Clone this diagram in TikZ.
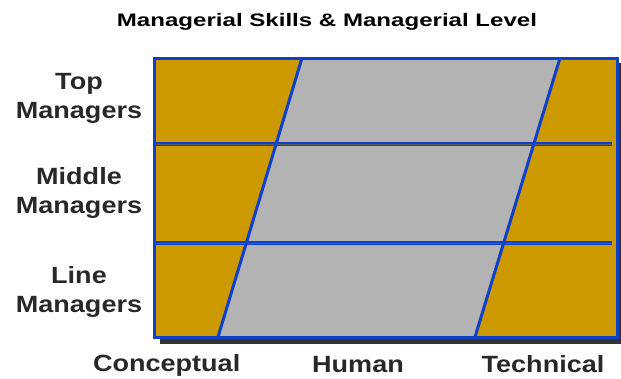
\documentclass[tikz,border=0pt]{standalone}
\usepackage{fontspec}
\usepackage{tikz}
\usetikzlibrary{positioning}
\newfontfamily\lblfont[FakeStretch=1.15]{Liberation Sans}
\newfontfamily\ttlfont[FakeStretch=1.33]{Liberation Sans}
\definecolor{skblue}{RGB}{16,64,200}
\definecolor{skgold}{RGB}{204,153,0}
\definecolor{skgrey}{RGB}{179,179,179}
\definecolor{skshadow}{RGB}{51,51,51}
\definecolor{sktext}{RGB}{40,40,40}
\tikzstyle{skilltext} = [font=\lblfont\bfseries\fontsize{23.5}{29}\selectfont, text=sktext, align=center, inner sep=0pt]
\tikzstyle{levelsep} = [line width=1.2pt, draw=skblue, double=skshadow!80, double distance=0.7pt]
\tikzstyle{slant} = [line width=3pt, draw=skblue]

\begin{document}
\begin{tikzpicture}[x=1pt, y=-1pt]
\useasboundingbox (0,0) rectangle (621,378);
% Title
\node (title) [font=\ttlfont\bfseries\fontsize{18.1}{21}\selectfont, inner sep=0pt, anchor=base] at (327,26) {Managerial Skills \& Managerial Level};

% Shadow and skill areas
\fill[skshadow] (160,63) rectangle (622,344);
\fill[skgold] (154,58) rectangle (617,337);
\fill[skgrey] (302,58) -- (560,58) -- (475,337) -- (218,337) -- cycle;

% Level separators
\draw[levelsep] (154,144) -- (612,144);
\draw[levelsep] (154,243) -- (612,243);

% Skill boundaries
\draw[slant] (302,58) -- (218,337);
\draw[slant] (560,58) -- (475,337);
\draw[line width=3pt, draw=skblue] (154,58) rectangle (617,337);

% Level labels
\node (top) [skilltext] at (79,98) {Top\\Managers};
\node (middle) [skilltext] at (79,192.5) {Middle\\Managers};
\node (line) [skilltext] at (79,291.7) {Line\\Managers};

% Skill labels
\node (concept) [skilltext, anchor=base] at (166.7,371) {Conceptual};
\node (human) [skilltext, anchor=base] at (358,372.5) {Human};
\node (tech) [skilltext, anchor=base] at (543,372.5) {Technical};
\end{tikzpicture}
\end{document}
